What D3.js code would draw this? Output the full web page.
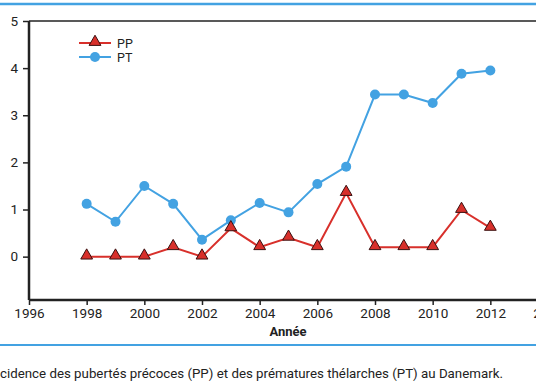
<!DOCTYPE html>
<html><head><meta charset="utf-8">
<script src="https://cdn.jsdelivr.net/npm/d3@7"></script>
<style>body{margin:0;background:#fff}svg{display:block}text{font-family:Roboto,"DejaVu Sans",sans-serif}</style>
</head><body>
<svg id="c" width="536" height="386"></svg>
<script>
const years = [1998,1999,2000,2001,2002,2003,2004,2005,2006,2007,2008,2009,2010,2011,2012];
const ppValues = [0,0,0,0.2,0,0.6,0.2,0.4,0.2,1.35,0.2,0.2,0.2,0.99,0.61];
const ptValues = [1.12,0.74,1.5,1.12,0.36,0.77,1.14,0.94,1.54,1.91,3.44,3.44,3.26,3.88,3.95];
const xTicks = [1996,1998,2000,2002,2004,2006,2008,2010,2012,2014];
const yTicks = [0,1,2,3,4,5];
const seriesNames = ["PP","PT"];
const xLabel = "Année";
const caption = "cidence des pubertés précoces (PP) et des prématures thélarches (PT) au Danemark.";

const svg = d3.select("#c");
const red = "#d8302b", blue = "#43a2e2";
const x = d3.scaleLinear().domain([1996,2014]).range([29,548]);
const y = d3.scaleLinear().domain([-0.92,5]).range([300,21]);

svg.append("line").attr("x1",0).attr("x2",536).attr("y1",4).attr("y2",4).attr("stroke",blue).attr("stroke-width",2.5);
svg.append("line").attr("x1",0).attr("x2",536).attr("y1",345).attr("y2",345).attr("stroke",blue).attr("stroke-width",2);

svg.append("line").attr("x1",29).attr("x2",536).attr("y1",y(5)).attr("y2",y(5)).attr("stroke","#222").attr("stroke-width",1.5);

const ya = svg.append("g").attr("transform","translate(29,0)")
  .call(d3.axisLeft(y).tickValues(yTicks).tickSize(6).tickFormat(d3.format("d")));
const xa = svg.append("g").attr("transform","translate(0,300)")
  .call(d3.axisBottom(x).tickValues(xTicks).tickSize(5).tickFormat(d3.format("d")));
[ya,xa].forEach(a=>{
  a.select(".domain").attr("stroke","#222").attr("stroke-width",2.5);
  a.selectAll(".tick line").attr("stroke","#222").attr("stroke-width",1.5);
  a.selectAll("text").attr("fill","#222").style("font-size","13.5px");
});
ya.select(".domain").attr("d","M0,"+y(-0.92)+"V"+y(5));
xa.select(".domain").attr("d","M29,0H548");
ya.selectAll("text").attr("x",-11);
xa.selectAll("text").attr("y",8);

svg.append("text").attr("x",288).attr("y",336).attr("text-anchor","middle")
  .style("font-size","13px").style("font-weight","bold").attr("fill","#222").text(xLabel);

const line = d3.line().x((d,i)=>x(years[i])).y(d=>y(d));
svg.append("path").datum(ptValues).attr("d",line).attr("fill","none").attr("stroke",blue).attr("stroke-width",2);
svg.append("path").datum(ppValues).attr("d",line).attr("fill","none").attr("stroke",red).attr("stroke-width",2);

const tri = d3.symbol().type(d3.symbolTriangle).size(60);
svg.selectAll(".pt").data(ptValues).join("circle").attr("cx",(d,i)=>x(years[i])).attr("cy",d=>y(d)).attr("r",5).attr("fill",blue);
svg.selectAll(".pp").data(ppValues).join("path").attr("d",tri)
  .attr("transform",(d,i)=>`translate(${x(years[i])},${y(d)-1})`)
  .attr("fill",red).attr("stroke","#3a1010").attr("stroke-width",1);

const lg = svg.append("g");
[[43,red,"tri"],[57,blue,"circ"]].forEach((r,k)=>{
  lg.append("line").attr("x1",79).attr("x2",111).attr("y1",r[0]).attr("y2",r[0]).attr("stroke",r[1]).attr("stroke-width",2);
  if(r[2]==="tri") lg.append("path").attr("d",tri).attr("transform",`translate(95,${r[0]-1})`).attr("fill",red).attr("stroke","#3a1010");
  else lg.append("circle").attr("cx",95).attr("cy",r[0]).attr("r",5).attr("fill",blue);
  lg.append("text").attr("x",117).attr("y",r[0]+4.5).style("font-size","12.5px").attr("fill","#222").text(seriesNames[k]);
});

svg.append("text").attr("x",0).attr("y",378).style("font-size","13.3px").attr("fill","#222").text(caption);
</script>
</body></html>
